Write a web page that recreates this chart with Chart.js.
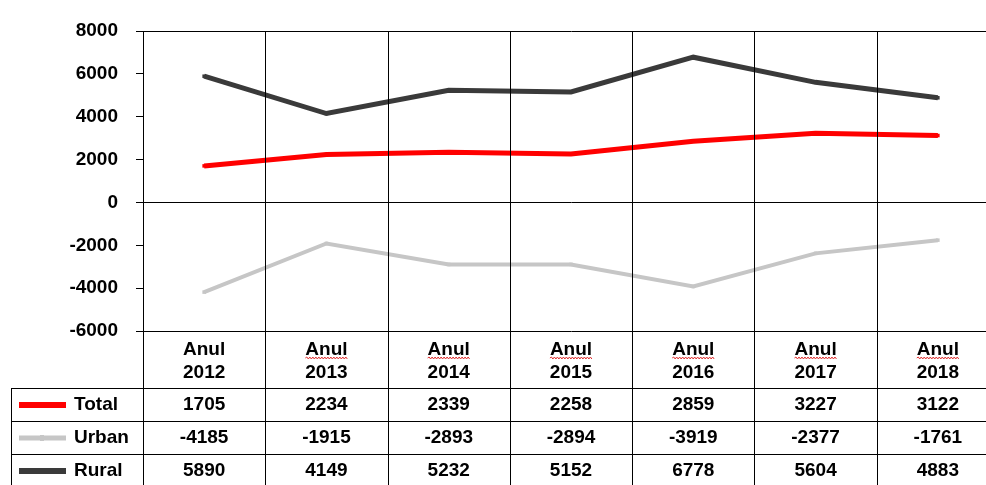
<!DOCTYPE html>
<html>
<head>
<meta charset="utf-8">
<script src="https://cdn.jsdelivr.net/npm/chart.js@4.4.1/dist/chart.umd.min.js"></script>
<style>
html,body{margin:0;padding:0;background:#fff;overflow:hidden;}
#wrap{width:986px;height:485px;overflow:hidden;position:relative;}
canvas{display:block;}
</style>
</head>
<body>
<div id="wrap"><canvas id="c" width="1003" height="485"></canvas></div>
<script>
const yearLabels = ['2012','2013','2014','2015','2016','2017','2018'];
const headerWord = 'Anul';
const seriesNames = ['Total','Urban','Rural'];
const totalValues = [1705,2234,2339,2258,2859,3227,3122];
const urbanValues = [-4185,-1915,-2893,-2894,-3919,-2377,-1761];
const ruralValues = [5890,4149,5232,5152,6778,5604,4883];
const yTicks = [-6000,-4000,-2000,0,2000,4000,6000,8000];

const colors = {Total:'#ff0000', Urban:'#c6c6c6', Rural:'#3a3a3a'};
const widths = {Total:5, Urban:4, Rural:5};
const FONT = '"Liberation Sans", Arial, sans-serif';

const tablePlugin = {
  id:'tablePlugin',
  afterDraw(chart){
    const ctx = chart.ctx;
    const xs = chart.scales.x;
    const area = chart.chartArea;
    const n = yearLabels.length;
    const w = (xs.getPixelForValue(1) - xs.getPixelForValue(0));
    const bottom = chart.height + 4;
    const headerBottom = area.bottom + 57;
    const rowH = 33;
    const tableLeft = 11;
    ctx.save();
    ctx.strokeStyle = '#000';
    ctx.lineWidth = 1;
    for (let i = 0; i <= n; i++) {
      const x = Math.round(xs.getPixelForValue(i) - w/2) + 0.5;
      ctx.beginPath();
      ctx.moveTo(x, area.top);
      ctx.lineTo(x, bottom);
      ctx.stroke();
    }
    ctx.beginPath();
    ctx.moveTo(tableLeft + 0.5, headerBottom);
    ctx.lineTo(tableLeft + 0.5, bottom);
    ctx.stroke();
    for (let r = 0; r < 3; r++) {
      const y = Math.round(headerBottom + r*rowH) + 0.5;
      ctx.beginPath();
      ctx.moveTo(tableLeft, y);
      ctx.lineTo(chart.width, y);
      ctx.stroke();
    }
    ctx.fillStyle = '#000';
    ctx.font = 'bold 19px ' + FONT;
    ctx.textAlign = 'center';
    ctx.textBaseline = 'middle';
    for (let i = 0; i < n; i++) {
      const cx = xs.getPixelForValue(i);
      ctx.fillText(headerWord, cx, area.bottom + 19);
      ctx.fillText(yearLabels[i], cx, area.bottom + 42);
      if (i > 0) {
        const tw = ctx.measureText(headerWord).width;
        const x0 = cx - tw/2, x1 = cx + tw/2;
        const yb = area.bottom + 27;
        ctx.save();
        ctx.strokeStyle = '#e03030';
        ctx.lineWidth = 1;
        ctx.beginPath();
        let up = true;
        ctx.moveTo(x0, yb);
        for (let x = x0 + 1.5; x <= x1; x += 1.5) {
          ctx.lineTo(x, up ? yb - 1 : yb + 1);
          up = !up;
        }
        ctx.stroke();
        ctx.restore();
      }
    }
    const rows = [totalValues, urbanValues, ruralValues];
    for (let r = 0; r < 3; r++) {
      const cy = headerBottom + r*rowH + rowH/2 + 0.5;
      const name = seriesNames[r];
      ctx.save();
      ctx.strokeStyle = colors[name];
      ctx.lineWidth = widths[name] + 1;
      ctx.beginPath();
      ctx.moveTo(19, cy);
      ctx.lineTo(66, cy);
      ctx.stroke();
      if (name !== 'Total') {
        ctx.fillStyle = colors[name];
        ctx.fillRect(40, cy - 3, 4, 6);
      }
      ctx.restore();
      ctx.textAlign = 'left';
      ctx.fillText(name, 74, cy);
      ctx.textAlign = 'center';
      for (let i = 0; i < n; i++) {
        ctx.fillText(String(rows[r][i]), xs.getPixelForValue(i), cy);
      }
    }
    ctx.restore();
  }
};

const mkDs = (name, data) => ({
  label: name,
  data: data,
  borderColor: colors[name],
  backgroundColor: colors[name],
  borderWidth: widths[name],
  pointRadius: 2.5,
  pointStyle: 'rect',
  pointBorderWidth: 0,
  tension: 0,
  fill: false,
  clip: false
});

new Chart(document.getElementById('c'), {
  type: 'line',
  data: {
    labels: yearLabels,
    datasets: [mkDs('Total', totalValues), mkDs('Urban', urbanValues), mkDs('Rural', ruralValues)]
  },
  options: {
    responsive: false,
    animation: false,
    devicePixelRatio: 1,
    layout: { padding: { top: 31, left: 0, right: 0, bottom: 0 } },
    plugins: { legend: { display: false }, tooltip: { enabled: false } },
    scales: {
      x: {
        type: 'category',
        offset: true,
        grid: { display: false, offset: true },
        border: { display: false },
        ticks: { display: false },
        afterFit(s) { s.height = 154; }
      },
      y: {
        min: -6000,
        max: 8000,
        afterBuildTicks(s) { s.ticks = yTicks.map(v => ({ value: v })); },
        afterFit(s) { s.width = 143; },
        border: { display: true, color: '#000', width: 1 },
        grid: {
          drawOnChartArea: true,
          drawTicks: true,
          tickLength: 7,
          tickColor: '#000',
          color: (c) => (c.tick && (c.tick.value === 0 || c.tick.value === 8000 || c.tick.value === -6000)) ? '#000' : 'rgba(0,0,0,0)',
          lineWidth: 1
        },
        ticks: {
          color: '#000',
          padding: 18,
          font: { family: FONT, size: 19, weight: 'bold' },
          callback: (v) => String(v)
        }
      }
    }
  },
  plugins: [tablePlugin]
});
</script>
</body>
</html>
